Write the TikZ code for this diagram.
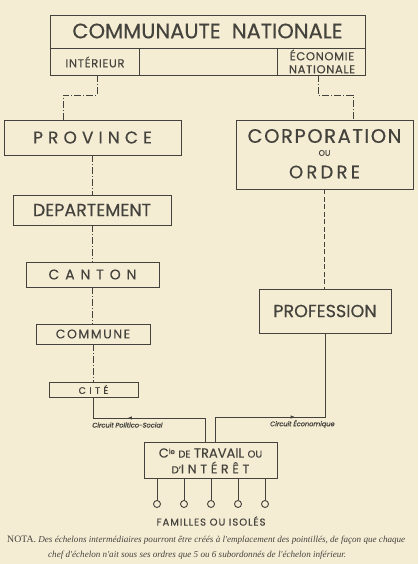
\documentclass[tikz,border=0pt]{standalone}
\usepackage{fontspec}
\setmainfont{Poppins}[FakeBold=0.4]
\newfontfamily\notefont{Liberation Serif}
\newfontfamily\circfont[FakeSlant=0.2,FakeBold=1.4]{Poppins}
\usetikzlibrary{arrows.meta,positioning,decorations.markings}
\definecolor{cPaper}{RGB}{245,236,212}
\definecolor{cInk}{RGB}{68,66,60}
\newcommand{\spc}[2]{{\addfontfeature{LetterSpace=#1}#2}}
\newcommand{\fsz}[1]{\fontsize{#1}{#1}\selectfont}
\tikzset{
  basebox/.style={rectangle,draw=cInk,line width=0.9pt,inner sep=0pt,
                  align=center,text=cInk},
  lbl/.style={inner sep=0pt,text=cInk,align=center},
  link/.style={draw=cInk,line width=0.9pt},
  dashlink/.style={link,dash pattern=on 7pt off 2pt on 1pt off 2pt},
  dotlink/.style={link,dash pattern=on 5pt off 2.5pt},
  circarr/.style={postaction={decorate},
                  decoration={markings,mark=at position #1 with
                  {\arrow{Latex[length=4.5pt,width=3.5pt]}}}},
  circlbl/.style={lbl,font=\circfont\fsz{6.6}},
  famcirc/.style={circle,draw=cInk,line width=0.9pt,minimum size=7pt,
                  inner sep=0pt}
}
\begin{document}
\begin{tikzpicture}[x=1pt,y=-1pt]
  \fill[cPaper] (0,0) rectangle (418,564);
  \useasboundingbox (0,0) rectangle (418,564);

  % communaute nationale
  \node[basebox,minimum width=315pt,minimum height=60pt] (cn) at (207.5,45) {};
  \node[lbl,font=\fsz{21}] (cntitle) at (207.5,31) {COMMUNAUTE\ \ NATIONALE};
  \draw[link] (cn.west |- 0,48) -- (cn.east |- 0,48);
  \coordinate (dl) at (139,48);
  \coordinate (dr) at (277,48);
  \draw[link] (dl) -- (dl |- cn.south);
  \draw[link] (dr) -- (dr |- cn.south);
  \node[lbl,font=\fsz{11.5}] (interieur) at (95,62) {\spc{6}{INTÉRIEUR}};
  \node[lbl,font=\fontsize{11.5}{13}\selectfont] (econ) at (322,61.5)
      {\spc{6}{ÉCONOMIE}\\\spc{6}{NATIONALE}};

  % left column
  \node[basebox,minimum width=177pt,minimum height=35pt,font=\fsz{17}]
      (province) at (92.5,137.5) {\spc{30}{PROVINCE}};
  \node[basebox,minimum width=158pt,minimum height=30pt,font=\fsz{17.5}]
      (departement) at (92,210) {DEPARTEMENT};
  \node[basebox,minimum width=133pt,minimum height=25pt,font=\fsz{14}]
      (canton) at (92.5,274.5) {\spc{42}{CANTON}};
  \node[basebox,minimum width=114pt,minimum height=20pt,font=\fsz{12.5}]
      (commune) at (93,334) {\spc{13}{COMMUNE}};
  \node[basebox,minimum width=89pt,minimum height=15pt,font=\fsz{9.5}]
      (cite) at (93.5,389.5) {\spc{35}{CITÉ}};

  % right column
  \node[basebox,minimum width=177pt,minimum height=69pt]
      (corporation) at (324.5,154.5) {};
  \node[lbl,font=\fsz{19.5}] (corp) at (324.5,136) {\spc{8}{CORPORATION}};
  \node[lbl,font=\fsz{8}] (ou) at (324.5,153) {OU};
  \node[lbl,font=\fsz{18}] (ordre) at (324.5,172) {\spc{18}{ORDRE}};
  \node[basebox,minimum width=132pt,minimum height=44pt,font=\fsz{17.5}]
      (profession) at (325,311) {PROFESSION};

  % compagnie
  \node[basebox,minimum width=133pt,minimum height=36pt]
      (travail) at (210.5,460) {};
  \node[lbl,font=\fsz{13}] (trav1) at (210.5,453)
      {C\raisebox{3.5pt}{\fsz{7}ie} {\fsz{10}DE} TRAVAIL {\fsz{10}OU}};
  \node[lbl,font=\fsz{12.5}] (trav2) at (210.5,467.5)
      {{\fsz{10}D'}\spc{30}{INTÉRÊT}};

  % top links
  \coordinate (lk) at (97,95);
  \coordinate (lp) at (63,95);
  \coordinate (rk) at (318,95);
  \coordinate (rp) at (353,95);
  \draw[dashlink] (lk |- cn.south) -- (lk) -- (lp) -- (lp |- province.north);
  \draw[dashlink] (rk |- cn.south) -- (rk) -- (rp) -- (rp |- corporation.north);

  \foreach \a/\b in {province/departement,departement/canton,
                     canton/commune,commune/cite}
    \draw[dashlink] (\a.south) -- (\a.south |- \b.north);
  \draw[dotlink] (corporation.south) -- (corporation.south |- profession.north);

  % circuits
  \coordinate (ps) at (205,418);
  \coordinate (es) at (215,417);
  \draw[link,circarr=0.65] (ps |- travail.north) -- (ps) -| (cite.south);
  \draw[link,circarr=0.48] (es |- travail.north) -- (es) -| (profession.south);
  \node[circlbl] (cps) at (127,425) {Circuit Politico-Social};
  \node[circlbl] (cec) at (302,424) {Circuit Économique};

  % familles
  \foreach \x [count=\i] in {157,184,211,238,265} {
    \node[famcirc] (fam\i) at (\x,504) {};
    \draw[link] (fam\i |- travail.south) -- (fam\i.north);
  }
  \node[lbl,font=\fsz{10}] (familles) at (211,521) {\spc{10}{FAMILLES OU ISOLÉS}};

  % nota
  \node[lbl,anchor=west,font=\notefont\fsz{9.1}] (nota1) at (7,540)
      {{\fsz{9.8}NOTA.} \textit{Des échelons intermédiaires pourront être créés à l'emplacement des pointillés, de façon que chaque}};
  \node[lbl,anchor=west,font=\notefont\fsz{9.1}] (nota2) at (48,555)
      {\textit{chef d'échelon n'ait sous ses ordres que 5 ou 6 subordonnés de l'échelon inférieur.}};
\end{tikzpicture}
\end{document}
